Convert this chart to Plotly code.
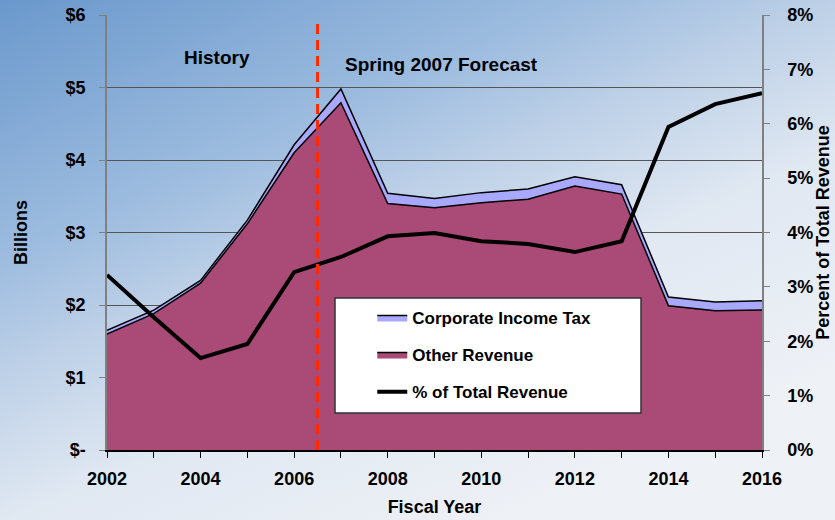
import base64
import plotly.graph_objects as go

# Fiscal years and revenue series (billions of dollars)
years = list(range(2002, 2017))
other_revenue = [1.60, 1.88, 2.30, 3.12, 4.10, 4.79, 3.40, 3.34, 3.41, 3.46, 3.64, 3.53, 1.99, 1.92, 1.93]
corporate_tax = [0.05, 0.05, 0.04, 0.05, 0.11, 0.19, 0.14, 0.13, 0.14, 0.14, 0.13, 0.13, 0.12, 0.12, 0.13]
# Corporate income tax as a share of total revenue (percent)
pct_total = [3.22, 2.44, 1.69, 1.95, 3.27, 3.55, 3.93, 3.99, 3.84, 3.79, 3.64, 3.84, 5.94, 6.36, 6.56]

y_ticks = [0, 1, 2, 3, 4, 5, 6]
y_ticktext = ["$-", "$1", "$2", "$3", "$4", "$5", "$6"]
y2_ticks = [0, 1, 2, 3, 4, 5, 6, 7, 8]
y2_ticktext = [f"{v}%" for v in y2_ticks]
x_ticktext = [str(y) if y % 2 == 0 else "" for y in years]
forecast_split = 2006.5

FONT = "Liberation Sans, Arial, sans-serif"
W, H = 835, 520
L, R, T, B = 107, 73, 15, 70
PW, PH = W - L - R, H - T - B

# slide-style gradient backdrop
svg = (
    "<svg xmlns='http://www.w3.org/2000/svg' width='835' height='520' preserveAspectRatio='none'>"
    "<defs><linearGradient id='g' x1='0' y1='0' x2='0.68' y2='0.95'>"
    "<stop offset='0' stop-color='#6A98CC'/>"
    "<stop offset='0.35' stop-color='#9DBCDF'/>"
    "<stop offset='0.5' stop-color='#BDD0E7'/>"
    "<stop offset='0.7' stop-color='#E0E8F2'/>"
    "<stop offset='1' stop-color='#EEF1F6'/>"
    "</linearGradient></defs>"
    "<rect width='835' height='520' fill='url(#g)'/></svg>"
)
bg_src = "data:image/svg+xml;base64," + base64.b64encode(svg.encode()).decode()

fig = go.Figure()

fig.add_trace(go.Scatter(
    x=years, y=other_revenue, name="Other Revenue", stackgroup="rev",
    mode="lines", line=dict(color="#000000", width=1.5),
    fillcolor="#AA4A76", legendrank=2, legendgroup="b",
))
fig.add_trace(go.Scatter(
    x=years, y=corporate_tax, name="Corporate Income Tax", stackgroup="rev",
    mode="lines", line=dict(color="#000000", width=1.5),
    fillcolor="#A8A8FC", legendrank=1, legendgroup="a",
))
fig.add_trace(go.Scatter(
    x=years, y=pct_total, name="% of Total Revenue", yaxis="y2",
    mode="lines", line=dict(color="#000000", width=4),
    legendrank=3, legendgroup="c",
))

tick_font = dict(family=FONT, size=18, color="#000000", weight="bold")
title_font = dict(family=FONT, size=18, color="#000000", weight="bold")

fig.update_layout(
    template="none",
    width=W, height=H,
    margin=dict(l=L, r=R, t=T, b=B, pad=0, autoexpand=False),
    paper_bgcolor="rgba(0,0,0,0)",
    plot_bgcolor="#FFFFFF",
    showlegend=True,
    legend=dict(
        x=0.405, y=0.345, xanchor="left", yanchor="top",
        bgcolor="rgba(0,0,0,0)", borderwidth=0,
        traceorder="grouped", tracegroupgap=12,
        font=dict(family=FONT, size=17, color="#000000", weight="bold"),
    ),
    xaxis=dict(
        range=[2002, 2016], tickvals=years, ticktext=x_ticktext,
        ticks="outside", ticklen=6, tickcolor="#000000", tickwidth=1,
        showline=True, linecolor="#000000", linewidth=1.5,
        showgrid=False, zeroline=False, tickfont=tick_font,
        automargin=False, ticklabelstandoff=6,
        title=dict(text="Fiscal Year", font=title_font, standoff=12),
    ),
    yaxis=dict(
        range=[0, 6], tickvals=y_ticks, ticktext=y_ticktext,
        ticks="outside", ticklen=6, tickcolor="#808080", tickwidth=1,
        showline=True, linecolor="#808080", linewidth=1.5,
        showgrid=True, gridcolor="#555555", gridwidth=1.2,
        zeroline=False, tickfont=tick_font, ticklabelstandoff=10,
        automargin=False,
        title=dict(text="Billions", font=title_font, standoff=33),
    ),
    yaxis2=dict(
        range=[0, 8], tickvals=y2_ticks, ticktext=y2_ticktext,
        overlaying="y", side="right",
        ticks="outside", ticklen=6, tickcolor="#808080", tickwidth=1,
        showline=True, linecolor="#808080", linewidth=1.5,
        showgrid=False, zeroline=False, tickfont=tick_font,
        automargin=False, ticklabelstandoff=14,
        title=dict(text="Percent of Total Revenue", font=title_font, standoff=4),
    ),
    images=[dict(
        source=bg_src, xref="paper", yref="paper",
        x=-L / PW, y=1 + T / PH, sizex=W / PW, sizey=H / PH,
        xanchor="left", yanchor="top", sizing="stretch", layer="below",
    )],
    shapes=[
        dict(type="line", xref="x", yref="y", x0=forecast_split, x1=forecast_split,
             y0=0, y1=5.9, line=dict(color="#FF2A00", width=3, dash="10px,6px"),
             layer="above"),
        dict(type="rect", xref="paper", yref="paper",
             x0=(335 - L) / PW, x1=(641 - L) / PW,
             y0=(H - B - 413) / PH, y1=(H - B - 298) / PH,
             fillcolor="#FFFFFF", line=dict(color="#333333", width=1.5),
             layer="above"),
    ],
    annotations=[
        dict(text="History", x=2004.35, y=5.41, xref="x", yref="y",
             showarrow=False, font=dict(family=FONT, size=19, color="#000000", weight="bold")),
        dict(text="Spring 2007 Forecast", x=2009.16, y=5.32, xref="x", yref="y",
             showarrow=False, font=dict(family=FONT, size=19, color="#000000", weight="bold")),
    ],
)

fig.write_html("out.html")
